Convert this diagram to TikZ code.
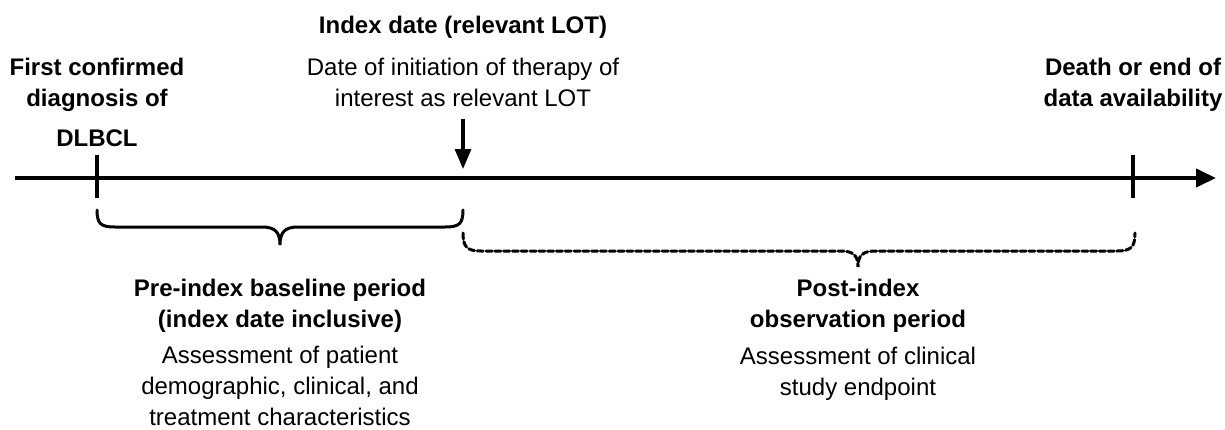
\documentclass[tikz,border=0pt]{standalone}
\usepackage{fontspec}
\setmainfont{Liberation Sans}
\usetikzlibrary{arrows.meta}
\begin{document}
\begin{tikzpicture}[x=0.5pt,y=-0.5pt,
        txt/.style={align=center,inner sep=0pt,anchor=base,font=\fontsize{12}{15.3}\selectfont},
        head/.style={txt,font=\fontsize{12}{15.3}\selectfont\bfseries},
        axis/.style={line width=2pt,-{Triangle[length=10pt,width=9pt]}},
        tick/.style={line width=2pt},
        pointer/.style={line width=1.6pt,-{Triangle[length=10pt,width=8pt]}},
        span/.style={line width=1.5pt,line cap=round},
        dspan/.style={span,line width=1.5pt,dash pattern=on 3pt off 1.4pt}]
    \useasboundingbox (0,0) rectangle (1225,429);
    % time points
    \coordinate (start) at (15,178);
    \coordinate (end) at (1216,178);
    \coordinate (diag) at (97,178);
    \coordinate (index) at (463,178);
    \coordinate (death) at (1133,178);
    \draw[axis] (start) -- (end);
    \draw[tick] (diag) ++(0,-23) -- ++(0,43);
    \draw[tick] (death) ++(0,-23) -- ++(0,43);
    % labels above the axis (base = last line)
    \node[head] (diagtext) at (97,106) {First confirmed\\diagnosis of};
    \node[head] (dlbcl) at (97,146) {DLBCL};
    \node[head] (idxhead) at (463,33) {Index date (relevant LOT)};
    \node[txt] (idxtext) at (463,106) {Date of initiation of therapy of\\interest as relevant LOT};
    \node[head] (deathtext) at (1133,106) {Death or end of\\data availability};
    \draw[pointer,shorten <=6pt,shorten >=4.5pt] (idxtext) -- (index);
    % baseline period
    \draw[span] (97,210) .. controls (97,224) and (101,227) .. (115,227) -- (262,227)
        .. controls (275,227) and (280,232) .. (280,245)
        .. controls (280,232) and (285,227) .. (298,227) -- (445,227)
        .. controls (459,227) and (463,224) .. (463,210);
    \node[head] (prehead) at (280,327) {Pre-index baseline period\\(index date inclusive)};
    \node[txt] (pretext) at (280,425) {Assessment of patient\\demographic, clinical, and\\treatment characteristics};
    % observation period
    \draw[dspan] (463,233) .. controls (463,247) and (467,251) .. (481,251) -- (840,251)
        .. controls (853,251) and (858,255) .. (858,267)
        .. controls (858,255) and (863,251) .. (876,251) -- (1117,251)
        .. controls (1131,251) and (1135,247) .. (1135,233);
    \node[head] (posthead) at (858,327) {Post-index\\observation period};
    \node[txt] (posttext) at (858,395) {Assessment of clinical\\study endpoint};
\end{tikzpicture}
\end{document}
